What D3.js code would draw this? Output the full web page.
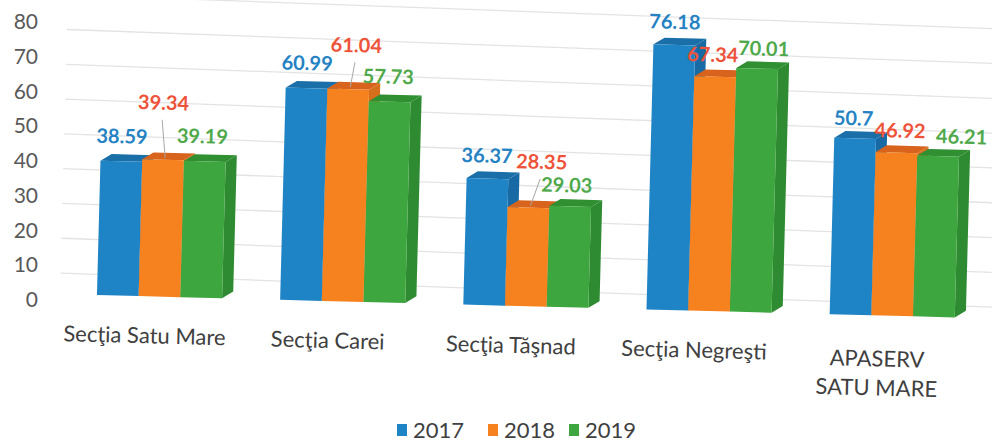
<!DOCTYPE html>
<html>
<head>
<meta charset="utf-8">
<script src="https://cdn.jsdelivr.net/npm/d3@7"></script>
<style>
  html, body { margin: 0; padding: 0; background: #fff; }
  svg { display: block; font-family: Lato, "Open Sans", sans-serif; }
</style>
</head>
<body>
<svg id="chart" width="992" height="445"></svg>
<script>
// ── Data ─────────────────────────────────────────────
const categories = ['Secţia Satu Mare', 'Secţia Carei', 'Secţia Tăşnad', 'Secţia Negreşti', 'APASERV\nSATU MARE'];
const seriesNames = ['2017', '2018', '2019'];
const values2017 = [38.59, 60.99, 36.37, 76.18, 50.7];
const values2018 = [39.34, 61.04, 28.35, 67.34, 46.92];
const values2019 = [39.19, 57.73, 29.03, 70.01, 46.21];
const yTicks = [0, 10, 20, 30, 40, 50, 60, 70, 80];

const seriesValues = [values2017, values2018, values2019];
const barColors   = ['#1f84c6', '#f5821f', '#3ea63e'];
const topColors   = ['#1a6fa8', '#d8631c', '#2f8f31'];
const sideColors  = ['#176aa3', '#d66f1b', '#2e8b31'];
const labelColors = ['#2582c3', '#ee5339', '#4fa94b'];

// label nudges (px) — labels were hand placed in the original
const nudge = {
  '0,0': [0, -5],  '0,1': [-1, -37], '0,2': [-3, -5],
  '1,0': [0, -5],  '1,1': [7, -24],  '1,2': [-2, -5],
  '2,0': [-1, -3], '2,1': [12, -26], '2,2': [-4, -1],
  '3,0': [0, -3],  '3,1': [-3, -2],  '3,2': [6, 0],
  '4,0': [-2, 0],  '4,1': [3, -2],   '4,2': [23, 0]
};
const leaders = ['0,1', '1,1', '2,1'];

// ── Layout ───────────────────────────────────────────
const svg = d3.select('#chart');
const DX = 11, DY = -7;          // 3D depth offset
const TILT = 1.5;                // scan tilt (deg)

const x = d3.scaleBand().domain(categories).range([68, 984])
  .paddingInner(0.317).paddingOuter(0.158);
const xs = d3.scaleBand().domain(seriesNames).range([0, x.bandwidth()]);
const yBar = d3.scaleLinear().domain([0, 80]).range([295, 295 - 278.4]);
const yAxis = d3.scaleLinear().domain([0, 80]).range([300, 22]);

// y axis labels
const ax = svg.append('g').attr('transform', 'translate(38,0)')
  .call(d3.axisLeft(yAxis).tickValues(yTicks).tickSize(0).tickPadding(0));
ax.select('.domain').remove();
ax.selectAll('text')
  .attr('fill', '#595959')
  .style('font-size', '21px')
  .style('font-family', 'Lato, sans-serif');

const frame = svg.append('g').attr('transform', `rotate(${TILT}, 97, 295)`);

// back wall gridlines
const grid = frame.append('g');
for (const v of yTicks) {
  grid.append('line')
    .attr('x1', 60).attr('x2', 1000)
    .attr('y1', yBar(v) - 21).attr('y2', yBar(v) - 21 + 940 * 0.0105)
    .attr('stroke', '#e3e3e3').attr('stroke-width', 1.3);
}

// bars
const bars = frame.append('g');
categories.forEach((cat, gi) => {
  seriesNames.forEach((s, si) => {
    const v = seriesValues[si][gi];
    const x0 = x(cat) + xs(s), w = xs.bandwidth();
    const yt = yBar(v), yb = yBar(0);
    bars.append('polygon')
      .attr('points', `${x0 + w},${yt} ${x0 + w + DX},${yt + DY} ${x0 + w + DX},${yb + DY} ${x0 + w},${yb}`)
      .attr('fill', sideColors[si]);
    bars.append('polygon')
      .attr('points', `${x0},${yt} ${x0 + DX},${yt + DY} ${x0 + w + DX},${yt + DY} ${x0 + w},${yt}`)
      .attr('fill', topColors[si]);
    bars.append('rect')
      .attr('x', x0).attr('y', yt).attr('width', w).attr('height', yb - yt)
      .attr('fill', barColors[si]);
  });
});

// value labels + leader lines
const labels = frame.append('g');
categories.forEach((cat, gi) => {
  seriesNames.forEach((s, si) => {
    const v = seriesValues[si][gi];
    const cx = x(cat) + xs(s) + xs.bandwidth() / 2;
    const key = `${gi},${si}`;
    const [nx, ny] = nudge[key];
    const lx = cx + nx, ly = yBar(v) - 13 + ny;
    if (leaders.includes(key)) {
      labels.append('line')
        .attr('x1', lx - 1).attr('y1', ly + 10)
        .attr('x2', cx + 2).attr('y2', yBar(v) - 2)
        .attr('stroke', '#a8a8a8').attr('stroke-width', 1);
    }
    labels.append('text')
      .attr('x', lx).attr('y', ly)
      .attr('text-anchor', 'middle')
      .attr('fill', labelColors[si])
      .style('font-size', '20px').style('font-weight', 700)
      .text(v);
  });
});

// category labels
const catG = frame.append('g');
categories.forEach((cat) => {
  const lines = cat.split('\n');
  const cx = x(cat) + x.bandwidth() / 2 - 14;
  const y0 = lines.length > 1 ? 346 : 342;
  const t = catG.append('text')
    .attr('text-anchor', 'middle')
    .attr('fill', '#404040')
    .style('font-size', '22px');
  lines.forEach((ln, k) => {
    t.append('tspan').attr('x', cx).attr('y', y0 + k * 29).text(ln);
  });
});

// legend
const legend = svg.append('g');
const legendX = [397, 488, 569];
seriesNames.forEach((s, i) => {
  legend.append('rect')
    .attr('x', legendX[i]).attr('y', 424).attr('width', 10).attr('height', 12)
    .attr('fill', barColors[i]);
  legend.append('text')
    .attr('x', legendX[i] + 16).attr('y', 438)
    .attr('fill', '#404040')
    .style('font-size', '22px')
    .text(s);
});
</script>
</body>
</html>
